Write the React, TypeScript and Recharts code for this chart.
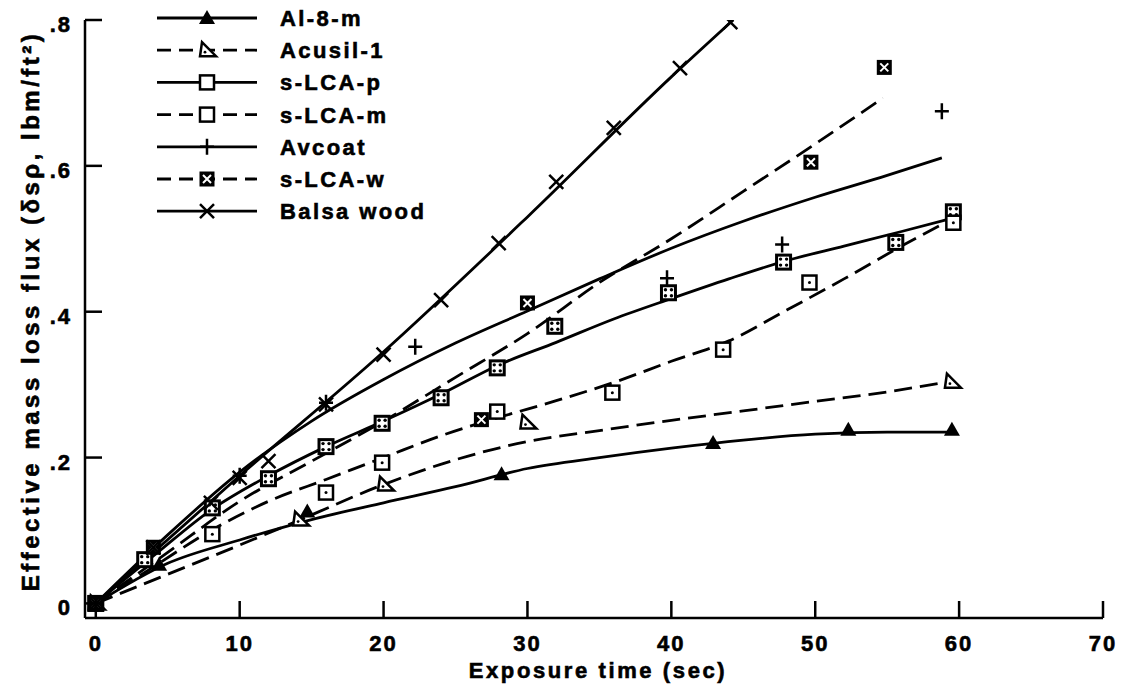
import React from 'react';
import { ComposedChart, Line, Scatter, XAxis, YAxis } from 'recharts';

// fitted curves (x = exposure time, sec; y = mass loss flux)
const alFitX = [0, 5, 10, 15, 20, 25, 30, 35, 40, 45, 50, 55, 59.5];
const alFitY = [0, 0.055, 0.087, 0.115, 0.138, 0.16, 0.185, 0.2, 0.213, 0.224, 0.232, 0.235, 0.235];
const alPtX = [0, 4.4, 14.7, 28.2, 42.9, 52.3, 59.5];
const alPtY = [0, 0.053, 0.126, 0.177, 0.22, 0.238, 0.238];

const acuFitX = [0, 5, 10, 14, 20, 25, 30, 35, 40, 45, 50, 55, 59.5];
const acuFitY = [0, 0.04, 0.08, 0.113, 0.163, 0.197, 0.222, 0.237, 0.251, 0.264, 0.277, 0.29, 0.305];
const acuPtX = [0, 14.2, 20.1, 30, 59.5];
const acuPtY = [0, 0.115, 0.163, 0.248, 0.304];

const lcapFitX = [0, 4, 8, 12, 16, 20, 24, 28, 32, 36, 40, 44, 48, 52, 56, 59.5];
const lcapFitY = [0, 0.065, 0.128, 0.175, 0.215, 0.25, 0.287, 0.327, 0.358, 0.39, 0.418, 0.445, 0.47, 0.49, 0.51, 0.528];
const lcapPtX = [0, 3.4, 8.1, 12, 16, 19.9, 24, 27.9, 31.9, 39.8, 47.8, 55.6, 59.6];
const lcapPtY = [0, 0.06, 0.131, 0.171, 0.215, 0.247, 0.282, 0.323, 0.38, 0.426, 0.468, 0.495, 0.537];

const lcamFitX = [0, 4, 8, 12, 16, 20, 24, 28, 32, 36, 40, 44, 48, 52, 56, 59.5];
const lcamFitY = [0, 0.05, 0.1, 0.14, 0.17, 0.2, 0.23, 0.255, 0.278, 0.303, 0.332, 0.36, 0.402, 0.445, 0.49, 0.527];
const lcamPtX = [0, 8.1, 16, 19.9, 27.9, 35.9, 43.6, 49.6, 59.6];
const lcamPtY = [0, 0.095, 0.152, 0.193, 0.263, 0.289, 0.348, 0.44, 0.522];

const avFitX = [0, 5, 10, 15, 20, 25, 30, 35, 40, 45, 50, 55, 58.8];
const avFitY = [0, 0.094, 0.18, 0.25, 0.307, 0.357, 0.401, 0.445, 0.487, 0.524, 0.557, 0.587, 0.611];
const avPtX = [0, 10, 16, 22.2, 39.7, 47.7, 58.8];
const avPtY = [0, 0.175, 0.275, 0.352, 0.446, 0.492, 0.675];

const lcawFitX = [0, 5, 10, 15, 20, 25, 30, 35, 40, 45, 50, 54.7];
const lcawFitY = [0, 0.07, 0.14, 0.195, 0.25, 0.31, 0.37, 0.44, 0.5, 0.565, 0.63, 0.693];
const lcawPtX = [0, 4, 26.8, 30, 49.7, 54.8];
const lcawPtY = [0, 0.077, 0.252, 0.412, 0.605, 0.735];

const balsaFitX = [0, 10, 20, 30, 40, 44.3];
const balsaFitY = [0, 0.175, 0.345, 0.53, 0.722, 0.8];
const balsaPtX = [0, 4, 8, 10, 12, 16, 20, 24, 28, 32, 36, 40.6, 44.1];
const balsaPtY = [0, 0.077, 0.138, 0.172, 0.195, 0.273, 0.341, 0.416, 0.494, 0.578, 0.652, 0.734, 0.797];

const xTicks = [0, 10, 20, 30, 40, 50, 60, 70];
const yTicks = [0, 0.2, 0.4, 0.6, 0.8];
const yTickLabels = ['0', '.2', '.4', '.6', '.8'];

const zip = (xs: number[], ys: number[]) => xs.map((x, i) => ({ x, y: ys[i] }));

const series = [
  { name: 'Al-8-m', fit: zip(alFitX, alFitY), pts: zip(alPtX, alPtY), dashed: false, marker: 'triFilled', key: 'triFilled' },
  { name: 'Acusil-1', fit: zip(acuFitX, acuFitY), pts: zip(acuPtX, acuPtY), dashed: true, marker: 'triOpen', key: 'triOpen' },
  { name: 's-LCA-p', fit: zip(lcapFitX, lcapFitY), pts: zip(lcapPtX, lcapPtY), dashed: false, marker: 'sqDots', key: 'sqPlain' },
  { name: 's-LCA-m', fit: zip(lcamFitX, lcamFitY), pts: zip(lcamPtX, lcamPtY), dashed: true, marker: 'sqOpen', key: 'sqPlain' },
  { name: 'Avcoat', fit: zip(avFitX, avFitY), pts: zip(avPtX, avPtY), dashed: false, marker: 'plus', key: 'plus' },
  { name: 's-LCA-w', fit: zip(lcawFitX, lcawFitY), pts: zip(lcawPtX, lcawPtY), dashed: true, marker: 'sqX', key: 'sqX' },
  { name: 'Balsa wood', fit: zip(balsaFitX, balsaFitY), pts: zip(balsaPtX, balsaPtY), dashed: false, marker: 'cross', key: 'cross' },
];

const FONT = '"Liberation Sans", Arial, sans-serif';
const DASH = '18 8';
const textStyle = { fontFamily: FONT, fontWeight: 'bold' as const, fontSize: 22, fill: '#000', stroke: '#000', strokeWidth: 0.6 };

const Marker = ({ kind, cx, cy }: { kind: string; cx: number; cy: number }) => {
  const sw = 2.5;
  switch (kind) {
    case 'triFilled':
      return <polygon points={`${cx},${cy - 8} ${cx - 8},${cy + 6} ${cx + 8},${cy + 6}`} fill="#000" />;
    case 'triOpen':
      return (
        <g>
          <polygon points={`${cx - 5},${cy - 8} ${cx - 7},${cy + 6} ${cx + 9},${cy + 6}`} fill="#fff" stroke="#000" strokeWidth={sw} />
          <circle cx={cx - 2} cy={cy + 2} r={1.4} fill="#000" />
        </g>
      );
    case 'sqPlain':
      return <rect x={cx - 7} y={cy - 7} width={14} height={14} fill="#fff" stroke="#000" strokeWidth={sw} />;
    case 'sqOpen':
      return (
        <g>
          <rect x={cx - 7} y={cy - 7} width={14} height={14} fill="#fff" stroke="#000" strokeWidth={sw} />
          <circle cx={cx} cy={cy} r={1.5} fill="#000" />
        </g>
      );
    case 'sqDots':
      return (
        <g>
          <rect x={cx - 7} y={cy - 7} width={14} height={14} fill="#fff" stroke="#000" strokeWidth={sw + 0.5} />
          <circle cx={cx - 3} cy={cy - 3} r={1.7} fill="#000" />
          <circle cx={cx + 3} cy={cy - 3} r={1.7} fill="#000" />
          <circle cx={cx - 3} cy={cy + 3} r={1.7} fill="#000" />
          <circle cx={cx + 3} cy={cy + 3} r={1.7} fill="#000" />
        </g>
      );
    case 'sqX':
      return (
        <g>
          <rect x={cx - 7.5} y={cy - 7.5} width={15} height={15} fill="#000" />
          <path d={`M${cx - 4},${cy - 4}L${cx + 4},${cy + 4}M${cx + 4},${cy - 4}L${cx - 4},${cy + 4}`} stroke="#fff" strokeWidth={2} />
        </g>
      );
    case 'plus':
      return <path d={`M${cx - 7},${cy}L${cx + 7},${cy}M${cx},${cy - 8}L${cx},${cy + 8}`} stroke="#000" strokeWidth={sw} />;
    default:
      return <path d={`M${cx - 7},${cy - 7}L${cx + 7},${cy + 7}M${cx + 7},${cy - 7}L${cx - 7},${cy + 7}`} stroke="#000" strokeWidth={sw} />;
  }
};

const XTick = (props: any) => {
  const { x, y, payload } = props;
  return (
    <g>
      <line x1={x} y1={y} x2={x} y2={y - 17} stroke="#000" strokeWidth={2.5} />
      <text x={x} y={y + 33} textAnchor="middle" letterSpacing={2} {...textStyle}>
        {payload.value}
      </text>
    </g>
  );
};

const YTick = (props: any) => {
  const { x, y, payload, index } = props;
  return (
    <g>
      <line x1={x} y1={y} x2={x + 17} y2={y} stroke="#000" strokeWidth={2.5} />
      <text x={x - 13} y={y + 12} textAnchor="end" letterSpacing={2} {...textStyle}>
        {yTickLabels[index] ?? payload.value}
      </text>
    </g>
  );
};

const XTitle = (props: any) => {
  const vb = props.viewBox || { x: 85, y: 618, width: 1018, height: 70 };
  return (
    <text x={vb.x + vb.width / 2 + 4} y={vb.y + vb.height - 10} textAnchor="middle" letterSpacing={2.6} {...textStyle}>
      Exposure time (sec)
    </text>
  );
};

const YTitle = (props: any) => {
  const vb = props.viewBox || { x: 0, y: 20, width: 85, height: 598 };
  const cx = vb.x + 30;
  const cy = vb.y + vb.height / 2 - 8;
  return (
    <text x={cx} y={cy} transform={`rotate(-90, ${cx}, ${cy})`} textAnchor="middle" dominantBaseline="central"
      letterSpacing={3.5} {...textStyle} fontSize={24}>
      Effective mass loss flux (δsρ, lbm/ft²)
    </text>
  );
};

const LegendBox = () => (
  <svg width={480} height={240} style={{ position: 'absolute', left: 0, top: 0 }}>
    {series.map((s, i) => {
      const y = 18 + i * 32.2;
      return (
        <g key={s.name}>
          <line x1={157} y1={y} x2={257} y2={y} stroke="#000" strokeWidth={2.8} strokeDasharray={s.dashed ? '14 8' : undefined} />
          <Marker kind={s.key} cx={207} cy={y} />
          <text x={280} y={y + 8} letterSpacing={2.4} {...textStyle}>
            {s.name}
          </text>
        </g>
      );
    })}
  </svg>
);

export default function App() {
  return (
    <div style={{ position: 'absolute', left: 0, top: 0, width: 1127, height: 688, background: '#fff' }}>
      <ComposedChart width={1127} height={688} margin={{ top: 20, right: 24, bottom: 0, left: 0 }}>
        <XAxis
          type="number"
          dataKey="x"
          domain={[-0.75, 70]}
          ticks={xTicks}
          interval={0}
          allowDataOverflow
          height={70}
          tickSize={0}
          tickMargin={0}
          tickLine={false}
          axisLine={{ stroke: '#000', strokeWidth: 2.5 }}
          tick={<XTick />}
          label={<XTitle />}
        />
        <YAxis
          type="number"
          dataKey="y"
          domain={[-0.02, 0.8]}
          ticks={yTicks}
          interval={0}
          allowDataOverflow
          width={85}
          tickSize={0}
          tickMargin={0}
          tickLine={false}
          axisLine={{ stroke: '#000', strokeWidth: 2.5 }}
          tick={<YTick />}
          label={<YTitle />}
        />
        {series.map((s) => (
          <Line
            key={`fit-${s.name}`}
            data={s.fit}
            dataKey="y"
            type="monotone"
            stroke="#000"
            strokeWidth={2.8}
            strokeDasharray={s.dashed ? DASH : undefined}
            dot={false}
            activeDot={false}
            isAnimationActive={false}
            legendType="none"
          />
        ))}
        {series.map((s) => (
          <Scatter
            key={`pts-${s.name}`}
            name={s.name}
            data={s.pts}
            dataKey="y"
            isAnimationActive={false}
            shape={(p: any) => <Marker kind={s.marker} cx={p.cx} cy={p.cy} />}
          />
        ))}
      </ComposedChart>
      <LegendBox />
    </div>
  );
}
